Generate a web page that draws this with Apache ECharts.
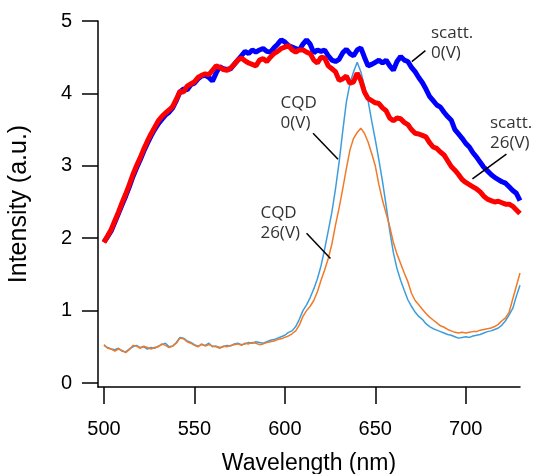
<!DOCTYPE html>
<html>

<head>
    <meta charset="UTF-8" />
    <script src="https://cdn.jsdelivr.net/npm/echarts@6/dist/echarts.min.js"></script>
    <style>
        html, body { margin: 0; padding: 0; background: #fff; }
        #chart { width: 533px; height: 474px; }
    </style>
</head>

<body>
    <div id="chart"></div>
    <script type="text/javascript">

        // wavelength grid (nm), 500 .. 730 step 2
        const wavelength = [];
        for (let w = 500; w <= 730; w += 2) wavelength.push(w);

        // scatt. 0(V)  (thick blue)
        const scatt0 = [
            1.95, 2.02, 2.10, 2.22, 2.34, 2.46, 2.58, 2.71, 2.85, 2.97,
            3.08, 3.20, 3.31, 3.41, 3.50, 3.58, 3.64, 3.70, 3.74, 3.80,
            3.90, 4.02, 4.06, 4.05, 4.12, 4.14, 4.20, 4.24, 4.25, 4.22,
            4.17, 4.28, 4.37, 4.34, 4.33, 4.34, 4.40, 4.46, 4.52, 4.58,
            4.55, 4.60, 4.57, 4.60, 4.62, 4.58, 4.57, 4.63, 4.68, 4.74,
            4.71, 4.66, 4.64, 4.62, 4.60, 4.68, 4.74, 4.68, 4.56, 4.60,
            4.58, 4.60, 4.52, 4.46, 4.44, 4.47, 4.56, 4.61, 4.55, 4.52,
            4.60, 4.63, 4.50, 4.38, 4.40, 4.43, 4.46, 4.42, 4.46, 4.38,
            4.32, 4.44, 4.51, 4.46, 4.44, 4.36, 4.30, 4.22, 4.15, 4.06,
            3.96, 3.90, 3.84, 3.81, 3.74, 3.68, 3.63, 3.50, 3.44, 3.38,
            3.31, 3.26, 3.18, 3.12, 3.05, 2.98, 2.93, 2.88, 2.84, 2.81,
            2.78, 2.76, 2.71, 2.66, 2.62, 2.52
        ];

        // scatt. 26(V)  (thick red)
        const scatt26 = [
            1.94, 2.03, 2.12, 2.24, 2.36, 2.49, 2.61, 2.74, 2.88, 3.00,
            3.11, 3.23, 3.34, 3.44, 3.53, 3.62, 3.68, 3.73, 3.77, 3.82,
            3.92, 4.03, 4.02, 4.10, 4.13, 4.16, 4.22, 4.25, 4.27, 4.26,
            4.32, 4.38, 4.36, 4.33, 4.32, 4.35, 4.40, 4.46, 4.49, 4.45,
            4.42, 4.40, 4.38, 4.46, 4.48, 4.44, 4.50, 4.55, 4.58, 4.62,
            4.64, 4.66, 4.60, 4.57, 4.60, 4.60, 4.57, 4.55, 4.46, 4.42,
            4.50, 4.49, 4.38, 4.34, 4.30, 4.18, 4.20, 4.24, 4.14, 4.16,
            4.28, 4.18, 4.02, 3.93, 3.90, 3.87, 3.86, 3.80, 3.76, 3.66,
            3.62, 3.66, 3.65, 3.60, 3.57, 3.50, 3.45, 3.44, 3.42, 3.40,
            3.32, 3.26, 3.24, 3.19, 3.15, 3.07, 2.99, 2.94, 2.88, 2.81,
            2.77, 2.74, 2.71, 2.68, 2.64, 2.58, 2.54, 2.52, 2.50, 2.51,
            2.49, 2.47, 2.47, 2.44, 2.39, 2.34
        ];

        // CQD 0(V)  (thin light blue)
        const cqd0 = [
            0.52, 0.49, 0.47, 0.46, 0.48, 0.44, 0.43, 0.47, 0.50, 0.52,
            0.49, 0.50, 0.47, 0.49, 0.48, 0.51, 0.53, 0.55, 0.50, 0.51,
            0.56, 0.63, 0.62, 0.58, 0.56, 0.53, 0.51, 0.53, 0.52, 0.55,
            0.50, 0.51, 0.49, 0.50, 0.52, 0.51, 0.54, 0.55, 0.53, 0.54,
            0.56, 0.55, 0.57, 0.56, 0.55, 0.57, 0.59, 0.60, 0.62, 0.64,
            0.66, 0.70, 0.72, 0.78, 0.88, 1.00, 1.08, 1.18, 1.30, 1.44,
            1.62, 1.85, 2.10, 2.36, 2.68, 3.05, 3.48, 3.88, 4.14, 4.30,
            4.43, 4.30, 4.10, 3.90, 3.62, 3.36, 3.08, 2.78, 2.45, 2.10,
            1.80, 1.58, 1.42, 1.28, 1.15, 1.06, 0.98, 0.92, 0.88, 0.82,
            0.78, 0.75, 0.73, 0.71, 0.69, 0.67, 0.66, 0.64, 0.62, 0.63,
            0.64, 0.63, 0.65, 0.66, 0.67, 0.69, 0.71, 0.72, 0.74, 0.76,
            0.80, 0.86, 0.94, 1.03, 1.20, 1.35
        ];

        // CQD 26(V)  (thin orange)
        const cqd26 = [
            0.53, 0.48, 0.47, 0.44, 0.47, 0.45, 0.42, 0.46, 0.52, 0.51,
            0.48, 0.51, 0.49, 0.47, 0.49, 0.50, 0.54, 0.52, 0.49, 0.51,
            0.55, 0.62, 0.61, 0.57, 0.55, 0.52, 0.50, 0.54, 0.51, 0.53,
            0.51, 0.50, 0.48, 0.51, 0.50, 0.52, 0.53, 0.54, 0.52, 0.55,
            0.54, 0.56, 0.55, 0.53, 0.54, 0.56, 0.57, 0.58, 0.60, 0.61,
            0.63, 0.65, 0.68, 0.72, 0.80, 0.92, 1.00, 1.06, 1.14, 1.26,
            1.42, 1.56, 1.72, 1.92, 2.18, 2.42, 2.68, 2.96, 3.22, 3.38,
            3.46, 3.52, 3.45, 3.33, 3.17, 3.00, 2.74, 2.52, 2.34, 2.16,
            1.94, 1.78, 1.65, 1.52, 1.40, 1.24, 1.14, 1.08, 1.02, 0.96,
            0.91, 0.87, 0.83, 0.79, 0.77, 0.74, 0.72, 0.70, 0.69, 0.70,
            0.69, 0.70, 0.71, 0.71, 0.73, 0.74, 0.75, 0.76, 0.78, 0.81,
            0.86, 0.90, 0.98, 1.16, 1.34, 1.52
        ];

        const xTicks = [500, 550, 600, 650, 700];
        const yTicks = [0, 1, 2, 3, 4, 5];

        // annotations: text, top-left anchor [nm, a.u.], leader line from -> to
        const noteText = ['scatt.\n0(V)', 'scatt.\n26(V)', 'CQD\n0(V)', 'CQD\n26(V)'];
        const noteAnchor = [[680.8, 4.97], [713.4, 3.73], [597.6, 4.01], [586.5, 2.49]];
        const leaderFrom = [[677.7, 4.59], [722.5, 3.16], [615.6, 3.45], [612.0, 2.07]];
        const leaderTo = [[670.2, 4.44], [703.7, 2.82], [629.4, 3.09], [625.2, 1.72]];

        function pairs(ys) {
            return wavelength.map((w, i) => [w, ys[i]]);
        }

        const myChart = echarts.init(document.getElementById('chart'), null, { renderer: 'canvas' });

        const axisFont = 'Liberation Sans';

        const option = {
            animation: false,
            backgroundColor: '#fff',
            grid: { left: 98, right: 13, top: 21, bottom: 87, containLabel: false, outerBoundsMode: 'none' },
            xAxis: {
                type: 'value',
                min: 496.7,
                max: 730,
                name: 'Wavelength (nm)',
                nameLocation: 'middle',
                nameGap: 65,
                nameTextStyle: { fontFamily: axisFont, fontSize: 23, color: '#000' },
                axisLine: { show: true, onZero: false, lineStyle: { color: '#000', width: 1.5 } },
                axisTick: { show: true, length: 17, customValues: xTicks, lineStyle: { color: '#000', width: 1.5 } },
                axisLabel: { customValues: xTicks, margin: 32, fontFamily: axisFont, fontSize: 20, color: '#000' },
                splitLine: { show: false }
            },
            yAxis: {
                type: 'value',
                min: -0.055,
                max: 5,
                name: 'Intensity (a.u.)',
                nameLocation: 'middle',
                nameGap: 66,
                nameTextStyle: { fontFamily: axisFont, fontSize: 25, color: '#000' },
                axisLine: { show: true, onZero: false, lineStyle: { color: '#000', width: 1.5 } },
                axisTick: { show: true, length: 16, customValues: yTicks, lineStyle: { color: '#000', width: 1.5 } },
                axisLabel: { customValues: yTicks, margin: 26, fontFamily: axisFont, fontSize: 20, color: '#000' },
                splitLine: { show: false }
            },
            series: [
                {
                    name: 'CQD 0(V)',
                    type: 'line',
                    data: pairs(cqd0),
                    showSymbol: false,
                    lineStyle: { color: '#3d9ddb', width: 1.5 }
                },
                {
                    name: 'CQD 26(V)',
                    type: 'line',
                    data: pairs(cqd26),
                    showSymbol: false,
                    lineStyle: { color: '#f07a2a', width: 1.5 }
                },
                {
                    name: 'scatt. 0(V)',
                    type: 'line',
                    data: pairs(scatt0),
                    showSymbol: false,
                    lineStyle: { color: '#0000ff', width: 5 }
                },
                {
                    name: 'scatt. 26(V)',
                    type: 'line',
                    data: pairs(scatt26),
                    showSymbol: false,
                    lineStyle: { color: '#ff0000', width: 5 }
                },
                {
                    name: 'notes',
                    type: 'scatter',
                    data: [],
                    silent: true,
                    markPoint: {
                        symbol: 'circle',
                        symbolSize: 0,
                        data: noteText.map((t, i) => ({ name: t, coord: noteAnchor[i] })),
                        label: {
                            show: true,
                            formatter: '{b}',
                            position: [0, 0],
                            align: 'left',
                            verticalAlign: 'top',
                            fontFamily: 'Open Sans',
                            fontSize: 17,
                            lineHeight: 20,
                            color: '#333'
                        }
                    },
                    markLine: {
                        symbol: ['none', 'none'],
                        silent: true,
                        label: { show: false },
                        lineStyle: { color: '#000', width: 1.5, type: 'solid' },
                        data: leaderFrom.map((p, i) => [{ coord: p }, { coord: leaderTo[i] }])
                    }
                }
            ]
        };

        myChart.setOption(option);

    </script>
</body>

</html>
